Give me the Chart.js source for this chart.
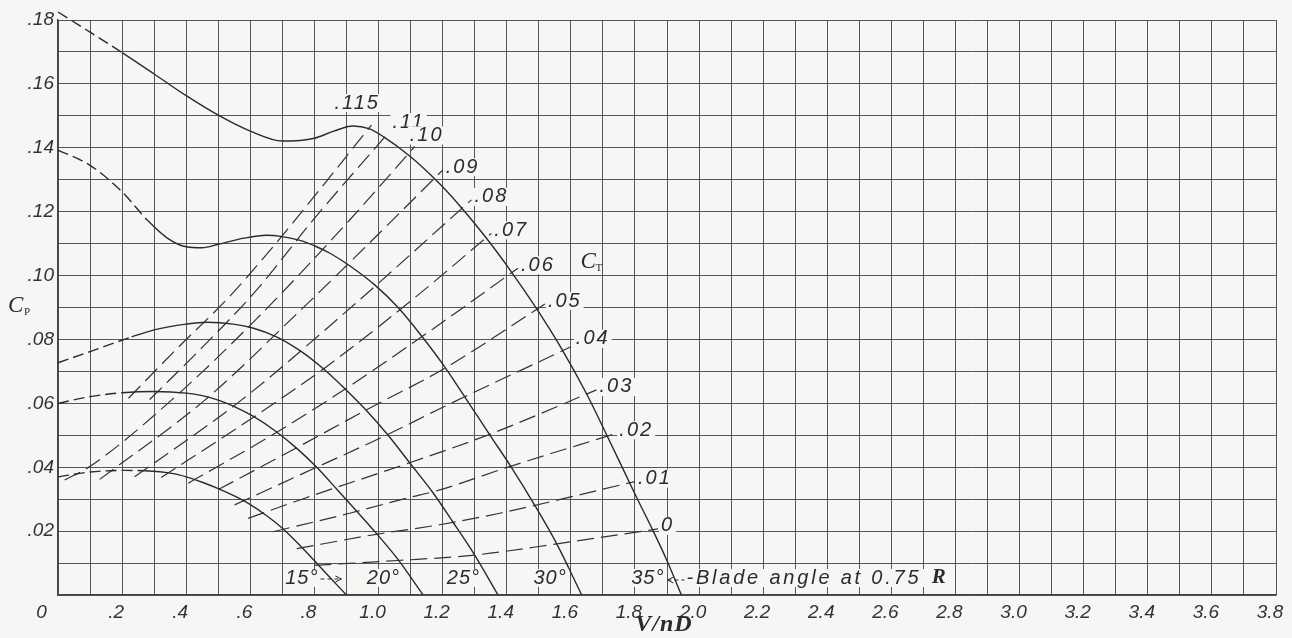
<!DOCTYPE html>
<html><head><meta charset="utf-8">
<script src="https://cdn.jsdelivr.net/npm/chart.js@4.4.1/dist/chart.umd.min.js"></script>
<style>html,body{margin:0;padding:0;background:#f6f6f4;}#wrap{width:1292px;height:638px;}</style>
</head><body><div id="wrap"><canvas id="c" width="1292" height="638"></canvas></div>
<script>
// ---------- DATA ----------
const bladeAngleLabels = ["15°", "20°", "25°", "30°", "35°"];

const j15  = [0, 0.1, 0.2, 0.27, 0.36, 0.40, 0.45, 0.50, 0.55, 0.60, 0.65, 0.70, 0.755, 0.805, 0.85, 0.90];
const cp15 = [0.037, 0.0385, 0.039, 0.0389, 0.0380, 0.0370, 0.0353, 0.0333, 0.0310, 0.0283, 0.0249, 0.0209, 0.0155, 0.0102, 0.0053, 0];

const j20  = [0, 0.1, 0.2, 0.3, 0.4, 0.45, 0.5, 0.55, 0.61, 0.68, 0.745, 0.805, 0.87, 0.932, 0.994, 1.057, 1.139];
const cp20 = [0.060, 0.0621, 0.0633, 0.0637, 0.0632, 0.0624, 0.0610, 0.0590, 0.0559, 0.0512, 0.0459, 0.0402, 0.0331, 0.0262, 0.0192, 0.0116, 0];

const j25  = [0, 0.1, 0.23, 0.3, 0.4, 0.465, 0.547, 0.61, 0.68, 0.755, 0.827, 0.895, 0.963, 1.03, 1.097, 1.17, 1.233, 1.30, 1.373];
const cp25 = [0.0727, 0.0762, 0.0808, 0.083, 0.0848, 0.0854, 0.0848, 0.0835, 0.0809, 0.0765, 0.0709, 0.0646, 0.0577, 0.0500, 0.0414, 0.0320, 0.0227, 0.0125, 0];

const j30  = [0, 0.1, 0.2, 0.28, 0.34, 0.40, 0.45, 0.5, 0.58, 0.65, 0.70, 0.755, 0.805, 0.85, 0.911, 0.989, 1.061, 1.135, 1.208, 1.29, 1.348, 1.415, 1.488, 1.556, 1.634];
const cp30 = [0.1393, 0.1345, 0.1262, 0.1172, 0.1118, 0.1090, 0.1087, 0.1098, 0.1117, 0.1126, 0.1122, 0.1110, 0.1091, 0.1069, 0.1030, 0.0970, 0.0900, 0.0810, 0.0712, 0.0588, 0.0500, 0.0399, 0.0280, 0.0160, 0];

const j35  = [0, 0.1, 0.2, 0.3, 0.4, 0.5, 0.6, 0.7, 0.8, 0.86, 0.92, 0.97, 1.015, 1.1, 1.18, 1.254, 1.332, 1.41, 1.49, 1.57, 1.649, 1.71, 1.803, 1.857, 1.898, 1.945];
const cp35 = [0.1825, 0.1762, 0.1698, 0.1631, 0.1563, 0.1502, 0.1452, 0.1421, 0.1430, 0.1452, 0.1468, 0.1460, 0.1435, 0.1372, 0.1298, 0.1218, 0.1123, 0.1018, 0.0901, 0.0773, 0.0630, 0.0505, 0.0310, 0.0200, 0.0112, 0];

const ctLabels = [".115", ".11", ".10", ".09", ".08", ".07", ".06", ".05", ".04", ".03", ".02", ".01", "0"];

const ct115_x = [0.22, 0.37, 0.53, 0.676, 0.74, 0.978];
const ct115_y = [0.0616, 0.077, 0.0929, 0.1096, 0.1174, 0.1471];
const ct110_x = [0.286, 0.45, 0.62, 0.796, 1.025];
const ct110_y = [0.0612, 0.0775, 0.0955, 0.1174, 0.144];
const ct100_x = [0.021, 0.099, 0.354, 0.62, 0.91, 1.113];
const ct100_y = [0.036, 0.0402, 0.061, 0.0865, 0.1174, 0.1404];
const ct090_x = [0.13, 0.458, 0.75, 1.0, 1.2];
const ct090_y = [0.0362, 0.061, 0.0885, 0.113, 0.133];
const ct080_x = [0.239, 0.572, 0.9, 1.29];
const ct080_y = [0.037, 0.061, 0.0888, 0.1237];
const ct070_x = [0.322, 0.57, 0.827, 1.1, 1.352];
const ct070_y = [0.0368, 0.053, 0.0707, 0.092, 0.1132];
const ct060_x = [0.406, 0.65, 0.895, 1.17, 1.435];
const ct060_y = [0.035, 0.049, 0.0644, 0.0833, 0.1023];
const ct050_x = [0.50, 0.73, 0.963, 1.207, 1.519];
const ct050_y = [0.033, 0.0453, 0.058, 0.071, 0.0911];
const ct040_x = [0.551, 0.77, 1.03, 1.191, 1.60];
const ct040_y = [0.0282, 0.0383, 0.0503, 0.0583, 0.0777];
const ct030_x = [0.593, 0.77, 1.097, 1.347, 1.68];
const ct030_y = [0.024, 0.0303, 0.0414, 0.0503, 0.0642];
const ct020_x = [0.671, 0.91, 1.087, 1.191, 1.409, 1.742];
const ct020_y = [0.0198, 0.0256, 0.0303, 0.0329, 0.0402, 0.0506];
const ct010_x = [0.745, 0.993, 1.191, 1.378, 1.8];
const ct010_y = [0.0145, 0.019, 0.022, 0.0256, 0.0355];
const ct000_x = [0.80, 1.06, 1.30, 1.556, 1.872];
const ct000_y = [0.0093, 0.0108, 0.0125, 0.0160, 0.0207];

// ---------- assembly ----------
const bladeSeries = [[j15, cp15], [j20, cp20], [j25, cp25], [j30, cp30], [j35, cp35]];
const ctSeries = [[ct115_x, ct115_y], [ct110_x, ct110_y], [ct100_x, ct100_y], [ct090_x, ct090_y], [ct080_x, ct080_y],
  [ct070_x, ct070_y], [ct060_x, ct060_y], [ct050_x, ct050_y], [ct040_x, ct040_y], [ct030_x, ct030_y],
  [ct020_x, ct020_y], [ct010_x, ct010_y], [ct000_x, ct000_y]];
const toXY = (xs, ys) => xs.map((x, i) => ({ x, y: ys[i] }));

// ---------- style ----------
const BG = '#f6f6f4';
const INK = '#2b2b2b';
const GRID = 'rgba(70,70,70,0.9)';
const SANS = '"Liberation Sans", Arial, sans-serif';
const SERIF = '"Liberation Serif", "Times New Roman", serif';
const dashEnd = [0.27, 0.2, 0.23, 0.28, 0.2];
const bladeLabelGap = [28, 23, 18, 15, 17];
const ctNudge = { ".115": [-37, -22], ".11": [6, -13], ".10": [-5, -11], ".04": [5, -8] };

const datasets = [];
bladeSeries.forEach(([xs, ys], i) => {
  datasets.push({
    data: toXY(xs, ys), borderColor: INK, borderWidth: 1.4, pointRadius: 0,
    cubicInterpolationMode: 'monotone', clip: false,
    segment: { borderDash: c => (c.p1.parsed.x <= dashEnd[i] + 1e-9 ? [11, 5] : undefined) }
  });
});
ctSeries.forEach(([xs, ys]) => {
  datasets.push({
    data: toXY(xs, ys), borderColor: '#333', borderWidth: 1.2, pointRadius: 0,
    cubicInterpolationMode: 'monotone', borderDash: [17, 7]
  });
});

function boxedText(ctx, text, x, y, font, spacing) {
  ctx.font = font;
  ctx.letterSpacing = spacing || '0px';
  const w = ctx.measureText(text).width;
  ctx.fillStyle = BG;
  ctx.fillRect(x - 2, y - 9, w + 4, 18);
  ctx.fillStyle = INK;
  ctx.textAlign = 'left';
  ctx.textBaseline = 'middle';
  ctx.fillText(text, x, y);
  ctx.letterSpacing = '0px';
}

const bgPlugin = {
  id: 'bg',
  beforeDraw(chart) {
    const ctx = chart.ctx;
    ctx.save(); ctx.fillStyle = BG; ctx.fillRect(0, 0, chart.width, chart.height); ctx.restore();
  }
};

const labelPlugin = {
  id: 'labels',
  afterDatasetsDraw(chart) {
    const ctx = chart.ctx, xs = chart.scales.x, ys = chart.scales.y;
    ctx.save();
    // CT labels at the end of each constant-thrust line
    ctSeries.forEach(([sx, sy], i) => {
      const n = sx.length;
      const px = xs.getPixelForValue(sx[n - 1]);
      const py = ys.getPixelForValue(sy[n - 1]);
      const nd = ctNudge[ctLabels[i]] || [3, -3];
      boxedText(ctx, ctLabels[i], px + nd[0], py + nd[1], `italic 20px ${SANS}`, '2px');
    });
    // C_T
    {
      const px = xs.getPixelForValue(1.63), py = ys.getPixelForValue(0.1043);
      ctx.fillStyle = INK; ctx.textBaseline = 'middle'; ctx.textAlign = 'left';
      ctx.font = `italic 23px ${SERIF}`; ctx.fillText('C', px, py);
      ctx.font = `11px ${SERIF}`; ctx.fillText('T', px + 15, py + 6);
    }
    // C_P
    {
      const py = ys.getPixelForValue(0.0905);
      ctx.fillStyle = INK; ctx.textBaseline = 'middle'; ctx.textAlign = 'left';
      ctx.font = `italic 23px ${SERIF}`; ctx.fillText('C', 8, py);
      ctx.font = `11px ${SERIF}`; ctx.fillText('P', 24, py + 6);
    }
    // blade angle labels
    const baseY = ys.getPixelForValue(0) - 17;
    bladeSeries.forEach(([sx], i) => {
      const endPx = xs.getPixelForValue(sx[sx.length - 1]);
      ctx.font = `italic 20px ${SANS}`; ctx.letterSpacing = '1px';
      ctx.textAlign = 'right'; ctx.textBaseline = 'middle';
      const rx = endPx - bladeLabelGap[i];
      const w = ctx.measureText(bladeAngleLabels[i]).width;
      ctx.fillStyle = BG; ctx.fillRect(rx - w - 2, baseY - 9, w + 4, 18);
      ctx.fillStyle = INK; ctx.fillText(bladeAngleLabels[i], rx, baseY);
      ctx.letterSpacing = '0px';
      if (i === 0) { // dashed arrow to the right
        ctx.strokeStyle = INK; ctx.lineWidth = 1; ctx.setLineDash([4, 3]);
        ctx.beginPath(); ctx.moveTo(rx + 2, baseY + 1); ctx.lineTo(rx + 22, baseY + 1); ctx.stroke();
        ctx.setLineDash([]);
        ctx.beginPath(); ctx.moveTo(rx + 17, baseY - 2); ctx.lineTo(rx + 23, baseY + 1); ctx.lineTo(rx + 17, baseY + 4); ctx.stroke();
      }
      if (i === 4) { // arrow to the left + note
        ctx.strokeStyle = INK; ctx.lineWidth = 1; ctx.setLineDash([4, 3]);
        ctx.beginPath(); ctx.moveTo(rx + 3, baseY + 2); ctx.lineTo(rx + 21, baseY + 2); ctx.stroke();
        ctx.setLineDash([]);
        ctx.beginPath(); ctx.moveTo(rx + 9, baseY - 1); ctx.lineTo(rx + 3, baseY + 2); ctx.lineTo(rx + 9, baseY + 5); ctx.stroke();
        ctx.textAlign = 'left'; ctx.font = `italic 20px ${SANS}`; ctx.letterSpacing = '2.8px';
        const t = '-Blade angle at 0.75 ';
        const tx = rx + 22;
        const tw = ctx.measureText(t).width;
        ctx.fillStyle = BG; ctx.fillRect(tx - 2, baseY - 9, tw + 20, 18);
        ctx.fillStyle = INK; ctx.fillText(t, tx, baseY);
        ctx.letterSpacing = '0px';
        ctx.font = `bold italic 21px ${SERIF}`;
        ctx.fillText('R', tx + tw + 2, baseY);
      }
    });
    // x-axis title
    ctx.fillStyle = INK; ctx.textAlign = 'center'; ctx.textBaseline = 'middle';
    ctx.font = `bold italic 24px ${SERIF}`; ctx.letterSpacing = '1px';
    ctx.fillText('V/nD', 664, 625);
    ctx.letterSpacing = '0px';
    ctx.restore();
  }
};

new Chart(document.getElementById('c'), {
  type: 'line',
  data: { datasets },
  plugins: [bgPlugin, labelPlugin],
  options: {
    responsive: false, animation: false, devicePixelRatio: 1, events: [],
    layout: { padding: { top: 20, right: 16, left: 0, bottom: 0 } },
    plugins: { legend: { display: false }, tooltip: { enabled: false } },
    scales: {
      x: {
        type: 'linear', min: 0, max: 3.8,
        afterFit: s => { s.height = 43; s.paddingRight = 0; s.paddingLeft = 0; },
        border: { display: true, color: '#444', width: 1.5 },
        grid: { color: GRID, lineWidth: 1, drawTicks: false },
        ticks: {
          stepSize: 0.1, maxTicksLimit: 100, autoSkip: false, maxRotation: 0, padding: 6, labelOffset: -6,
          color: '#333', font: { family: SANS, size: 19, style: 'italic' },
          callback: v => {
            const k = Math.round(v * 10);
            if (k % 2) return '';
            if (k === 0) return '0    ';
            const s = (k / 10).toFixed(1);
            return k < 10 ? s.slice(1) : s;
          }
        }
      },
      y: {
        type: 'linear', min: 0, max: 0.18,
        afterFit: s => { s.width = 58; s.paddingTop = 0; s.paddingBottom = 0; },
        border: { display: true, color: '#444', width: 1.5 },
        grid: { color: GRID, lineWidth: 1, drawTicks: false },
        ticks: {
          stepSize: 0.01, maxTicksLimit: 100, autoSkip: false, padding: 4,
          color: '#333', font: { family: SANS, size: 19, style: 'italic' },
          callback: v => {
            const k = Math.round(v * 100);
            if (k === 0 || k % 2) return '';
            return '.' + String(k).padStart(2, '0');
          }
        }
      }
    }
  }
});
</script></body></html>
